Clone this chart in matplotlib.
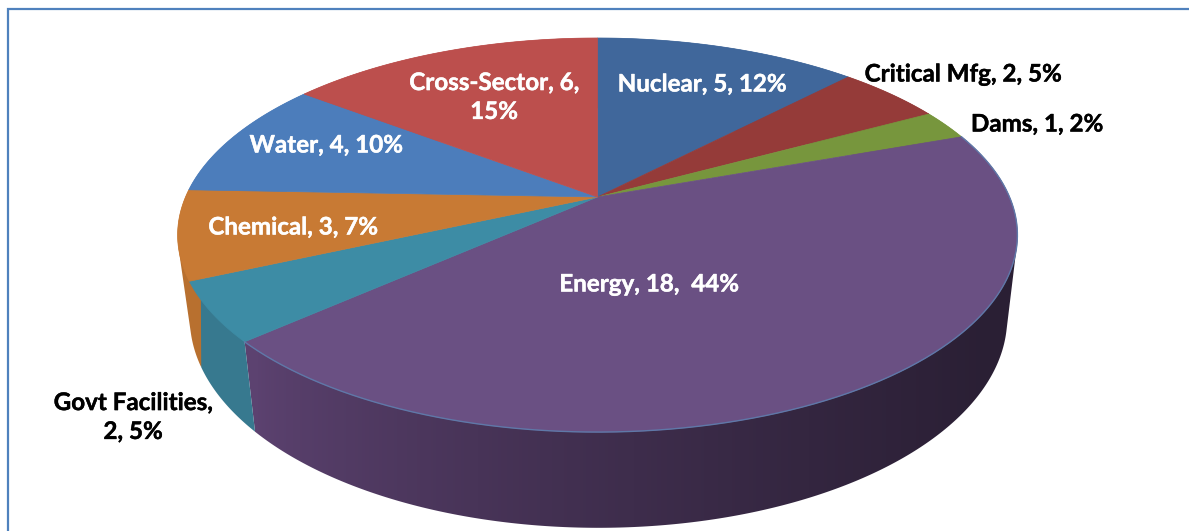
import numpy as np
import matplotlib
matplotlib.use("Agg")
import matplotlib.pyplot as plt
import matplotlib.patheffects as pe
from matplotlib.colors import LinearSegmentedColormap
from matplotlib.patches import Polygon

categories = ["Nuclear", "Critical Mfg", "Dams", "Energy", "Govt Facilities", "Chemical", "Water", "Cross-Sector"]
values = [5, 2, 1, 18, 2, 3, 4, 6]
label_texts = ["Nuclear, 5, 12%", "Critical Mfg, 2, 5%", "Dams, 1, 2%", "Energy, 18,  44%",
               "Govt Facilities,\n2, 5%", "Chemical, 3, 7%", "Water, 4, 10%", "Cross-Sector, 6,\n15%"]
label_x = [702, 963, 1037, 649, 133, 293, 326, 494]
label_y = [84, 74, 124, 284, 417, 227, 145, 97]
label_colors = ["white", "black", "black", "white", "black", "white", "white", "white"]
top_colors = ["#40679b", "#953b39", "#77963d", "#6a5083", "#3d8ca5", "#c87a34", "#4c7dbb", "#bc4f4d"]
side_left = ["#40679b", "#953b39", "#77963d", "#5c4270", "#37798f", "#b8702f", "#4c7dbb", "#bc4f4d"]
side_right = ["#40679b", "#953b39", "#77963d", "#2a1f34", "#37798f", "#b8702f", "#4c7dbb", "#bc4f4d"]

CX, CY, A, B, P = 597.5, 197.0, 412.0, 189.7, 0.193
CX2, CY2, A2, B2 = 598.5, 277.5, 401.0, 202.0


def project(theta, cx, a, b, cy):
    s, c = np.sin(theta), np.cos(theta)
    d = 1 + P * c
    return cx + a * s / d, cy - b * c / d


def hull(points):
    pts = sorted(set(map(tuple, points)))

    def half(seq):
        out = []
        for p in seq:
            while len(out) >= 2 and (out[-1][0] - out[-2][0]) * (p[1] - out[-2][1]) - (out[-1][1] - out[-2][1]) * (p[0] - out[-2][0]) <= 0:
                out.pop()
            out.append(p)
        return out[:-1]

    return np.array(half(pts) + half(pts[::-1]))


fig = plt.figure(figsize=(11.89, 5.31), dpi=100)
ax = fig.add_axes([0, 0, 1, 1])
ax.axis("off")

# frame: left and top rules only
ax.plot([7.5, 7.5, 1189], [531, 8.5, 8.5], color="#4f81bd", lw=1.6, solid_joinstyle="miter")

frac = np.array(values, dtype=float) / sum(values)
edges = np.concatenate([[0], np.cumsum(frac)]) * 2 * np.pi

# side walls: a horizontal shade clipped to the outline each slice sweeps
x_grid = np.linspace(170, 1030, 860)
ramp = (np.clip((x_grid - 257) / 743, 0, 1) ** 0.75)[None, :]
for i in range(len(values)):
    th = np.linspace(edges[i], edges[i + 1], 300)
    x1, y1 = project(th, CX, A, B, CY)
    x2, y2 = project(th, CX2, A2, B2, CY2)
    outline = hull(np.c_[np.r_[x1, x2], np.r_[y1, y2]])
    poly = Polygon(outline, closed=True, transform=ax.transData, facecolor="none", edgecolor="none")
    ax.add_patch(poly)
    cmap = LinearSegmentedColormap.from_list("s", [side_left[i], side_right[i]])
    im = ax.imshow(ramp, extent=(170, 1030, 531, 0), cmap=cmap, vmin=0, vmax=1, aspect="auto", zorder=2)
    im.set_clip_path(poly)

# top face
for i in range(len(values)):
    th = np.linspace(edges[i], edges[i + 1], 200)
    x, y = project(th, CX, A, B, CY)
    ax.fill(np.r_[CX, x], np.r_[CY, y], facecolor=top_colors[i], edgecolor=top_colors[i], lw=0.5, zorder=3)

# thin highlight on the visible front edge
th = np.linspace(edges[3], edges[4], 400)
x, y = project(th, CX, A, B, CY)
ax.plot(x, y, color="#5f78a8", lw=1.0, zorder=4)

for txt, lx, ly, col in zip(label_texts, label_x, label_y, label_colors):
    ax.text(lx, ly, txt, color=col, ha="center", va="center", fontsize=17.4,
            fontweight="bold", family="Lato", linespacing=1.31, zorder=5,
            path_effects=[pe.withStroke(linewidth=0.3, foreground=col)])

ax.set_xlim(0, 1189)
ax.set_ylim(531, 0)
fig.savefig("out.png", dpi=100)
